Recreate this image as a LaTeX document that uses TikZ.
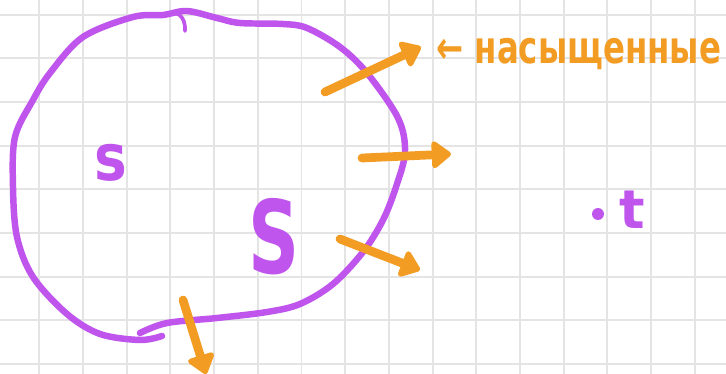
\documentclass[tikz,border=0pt]{standalone}
\usepackage{fontspec}
\setmainfont{DejaVu Sans}
\usepackage{xcolor}
\usetikzlibrary{arrows.meta}
\definecolor{cutpurple}{RGB}{191,85,236}
\definecolor{floworange}{RGB}{243,156,35}
\definecolor{gridgray}{RGB}{228,228,228}
\tikzset{
  gridline/.style={gridgray, line width=1.4pt},
  cutline/.style={cutpurple, line width=4.6pt, line cap=round, line join=round},
  flowarrow/.style={floworange, line width=6.2pt, line cap=round,
    -{Triangle[round, length=15pt, width=22pt]}},
  letter/.style={text=cutpurple, inner sep=0pt}
}

\begin{document}
\begin{tikzpicture}[x=0.025cm, y=-0.025cm]
\useasboundingbox (0,0) rectangle (726,374);
\fill[white] (0,0) rectangle (726,374);
\foreach \k in {0,...,15}
  \draw[gridline] (39.3+43.7*\k,0) -- (39.3+43.7*\k,374);
\foreach \k in {0,...,8}
  \draw[gridline] (0,14.7+43.65*\k) -- (726,14.7+43.65*\k);

\draw[cutline] plot[smooth, tension=0.55] coordinates {
  (162,336) (140,340) (100,334) (67,314) (33,277) (17,237) (13,187)
  (15,137) (33,100) (50,73) (83,37) (133,17) (163,15) (187,11) (217,18)
  (240,23) (283,24) (307,28) (340,47) (367,73) (398,118) (405,152)
  (396,187) (383,220) (363,252) (333,284) (300,304) (267,312) (217,318)
  (167,323) (140,333)};
\draw[cutline, line width=2.6pt] (163,16) .. controls (176,8) and (186,16) .. (185,31);

\coordinate (tail1) at (325,92);  \coordinate (head1) at (421,47);
\coordinate (tail2) at (362,158); \coordinate (head2) at (451,154);
\coordinate (tail3) at (340,239); \coordinate (head3) at (420,270);
\coordinate (tail4) at (183,300); \coordinate (head4) at (206,374);
\foreach \i in {1,...,4}
  \draw[flowarrow] (tail\i) -- (head\i);

\node[letter, font=\bfseries\fontsize{46}{46}\selectfont, xscale=0.85] (s) at (111,163) {s};
\node[letter, font=\bfseries\fontsize{72}{72}\selectfont, xscale=0.7] (S) at (274,237) {S};
\node[circle, fill=cutpurple, inner sep=0pt, minimum size=8.5pt] (tdot) at (598,214) {};
\node[letter, font=\bfseries\fontsize{38}{38}\selectfont] (t) at (632,210) {t};
\node[text=floworange, inner sep=0pt, anchor=base west, xscale=0.72,
  font=\bfseries\fontsize{32}{32}\selectfont] (sat) at (436,64) {← насыщенные};
\end{tikzpicture}
\end{document}
